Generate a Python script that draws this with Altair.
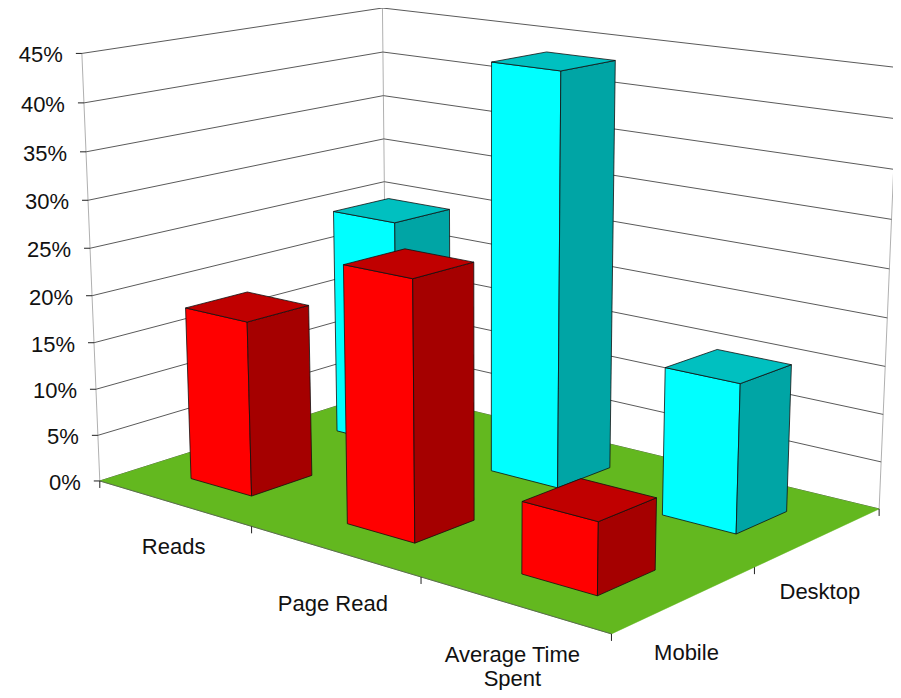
import altair as alt
import numpy as np
import pandas as pd

categories = ["Reads", "Page Read", "Average Time\nSpent"]
series = ["Mobile", "Desktop"]
mobile = [18.5, 26.5, 7.2]
desktop = [25.0, 43.6, 15.4]
y_ticks = [0, 5, 10, 15, 20, 25, 30, 35, 40, 45]

FONT = "Liberation Sans"
FSIZE = 22
W, H = 885, 682

# Perspective box: (category pos, series pos, percent) -> picture pixel, fitted with a DLT
refs = [
    ((0, 0, 0), (101, 480)), ((3, 0, 0), (612, 636)), ((3, 2, 0), (880, 507)), ((0, 2, 0), (384, 394)),
    ((0, 0, 45), (81, 54)), ((0, 0, 40), (83, 104)), ((0, 0, 35), (85, 152)), ((0, 0, 30), (88, 200)), ((0, 0, 5), (99, 433)),
    ((0, 2, 45), (384, 8)), ((0, 2, 40), (384, 52)), ((0, 2, 35), (384, 96)), ((0, 2, 30), (384, 138)), ((0, 2, 25), (384, 180)),
    ((3, 2, 45), (898, 68)), ((3, 2, 40), (896, 119)), ((3, 2, 35), (893, 169)), ((3, 2, 30), (891, 219)), ((3, 2, 25), (889, 269)),
]
rows, rhs = [], []
for (a, b, c), (px, py) in refs:
    rows.append([a, b, c, 1, 0, 0, 0, 0, -px * a, -px * b, -px * c]); rhs.append(px)
    rows.append([0, 0, 0, 0, a, b, c, 1, -py * a, -py * b, -py * c]); rhs.append(py)
P = np.append(np.linalg.lstsq(np.array(rows, float), np.array(rhs, float), rcond=None)[0], 1.0).reshape(3, 4)


def project(u, v, w):
    q = P @ np.array([u, v, w, 1.0])
    return float(q[0] / q[2]), float(q[1] / q[2])


polys = []
def add_poly(pts, fill):
    pid = len(polys) and polys[-1]["pid"] + 1
    for i, p in enumerate(list(pts) + [pts[0]]):
        x, y = project(*p)
        polys.append({"pid": pid, "i": i, "x": x, "y": y, "fill": fill})


# Ground
add_poly([(0, 0, 0), (3, 0, 0), (3, 2, 0), (0, 2, 0)], "#63b81f")
n_ground = len(polys)

A, B = 0.30, 0.30
COLS = {"Desktop": ("#00ffff", "#00a5a5", "#00c0c0"), "Mobile": ("#ff0000", "#a50000", "#c00000")}
for j, (name, vals) in reversed(list(enumerate(zip(series, [mobile, desktop])))):
    for i, h in enumerate(vals):
        u0, u1, v0, v1 = i + A, i + 1 - A, j + B, j + 1 - B
        front, side, top = COLS[name]
        add_poly([(u0, v0, 0), (u1, v0, 0), (u1, v0, h), (u0, v0, h)], front)
        add_poly([(u1, v0, 0), (u1, v1, 0), (u1, v1, h), (u1, v0, h)], side)
        add_poly([(u0, v0, h), (u1, v0, h), (u1, v1, h), (u0, v1, h)], top)

df = pd.DataFrame(polys)
ground_df = df.iloc[:n_ground]
bars_df = df.iloc[n_ground:]

# Wall gridlines and edges
grid, edges, ticks = [], [], []
for t in y_ticks:
    for i, p in enumerate([(0, 0, t), (0, 2, t), (3, 2, t)]):
        x, y = project(*p)
        grid.append({"id": t, "i": i, "x": x, "y": y})
    x, y = project(0, 0, t)
    ticks.append({"id": f"y{t}", "x": x, "y": y, "x2": x - 6, "y2": y})
for k, p in enumerate([(0, 0), (0, 2), (3, 2)]):
    for i, w in enumerate([0, 45]):
        x, y = project(p[0], p[1], w)
        edges.append({"id": k, "i": i, "x": x, "y": y})
for u in range(4):
    x, y = project(u, 0, 0)
    ticks.append({"id": f"u{u}", "x": x, "y": y, "x2": x, "y2": y + 7})
for v in [1, 2]:
    x, y = project(3, v, 0)
    ticks.append({"id": f"v{v}", "x": x, "y": y, "x2": x, "y2": y + 7})
front_edge = [dict(zip(["x", "y"], project(u, 0, 0)), i=u) for u in [0, 3]]

labels = []
for t in y_ticks:
    x, y = project(0, 0, t)
    labels.append({"t": f"{t}%", "x": x - 19, "y": y + 2})
cat_off = [(0, 44), (-1, 53), (-1, 50)]
center = []
for i, c in enumerate(categories):
    x, y = project(i + 0.5, 0, 0)
    center.append({"t": c, "x": x + cat_off[i][0], "y": y + cat_off[i][1]})
ser_off = [(1, 54), (1, 55)]
for j, s in enumerate(series):
    x, y = project(3, j + 0.5, 0)
    center.append({"t": s, "x": x + ser_off[j][0], "y": y + ser_off[j][1]})

X = alt.X("x:Q", scale=alt.Scale(domain=[8, 8 + W], nice=False, zero=False), axis=None)
Y = alt.Y("y:Q", scale=alt.Scale(domain=[8 + H, 8], nice=False, zero=False), axis=None)
X2, Y2 = alt.X2("x2:Q"), alt.Y2("y2:Q")

grid_l = alt.Chart(pd.DataFrame(grid)).mark_line(color="#5a5a5a", strokeWidth=1).encode(x=X, y=Y, detail="id:N", order="i:Q")
edge_l = alt.Chart(pd.DataFrame(edges)).mark_line(color="#b0b0b0", strokeWidth=1).encode(x=X, y=Y, detail="id:N", order="i:Q")
ground_l = alt.Chart(ground_df).mark_line(fill="#63b81f", stroke="#63b81f", strokeWidth=0.5).encode(x=X, y=Y, order="i:Q")
front_l = alt.Chart(pd.DataFrame(front_edge)).mark_line(color="#5a6a50", strokeWidth=1).encode(x=X, y=Y, order="i:Q")
tick_l = alt.Chart(pd.DataFrame(ticks)).mark_rule(color="#222222", strokeWidth=1).encode(x=X, y=Y, x2=X2, y2=Y2)
bar_layers = []
for pid, g in bars_df.groupby("pid", sort=True):
    bar_layers.append(
        alt.Chart(g).mark_line(fill=g["fill"].iloc[0], stroke="#101010", strokeWidth=0.8, strokeJoin="round").encode(x=X, y=Y, order="i:Q")
    )
lab_r = alt.Chart(pd.DataFrame(labels)).mark_text(font=FONT, fontSize=FSIZE, align="right", baseline="middle", color="#111111").encode(x=X, y=Y, text="t:N")
lab_c = alt.Chart(pd.DataFrame(center)).mark_text(font=FONT, fontSize=FSIZE, align="center", baseline="middle", color="#111111", lineBreak="\n", lineHeight=24).encode(x=X, y=Y, text="t:N")

chart = alt.layer(edge_l, grid_l, ground_l, front_l, tick_l, *bar_layers, lab_r, lab_c).properties(
    width=W, height=H, padding=0, autosize=alt.AutoSizeParams(type="none"), background="white"
).configure_view(stroke=None)

chart.save("out.html", embed_options={"renderer": "svg", "actions": False})
